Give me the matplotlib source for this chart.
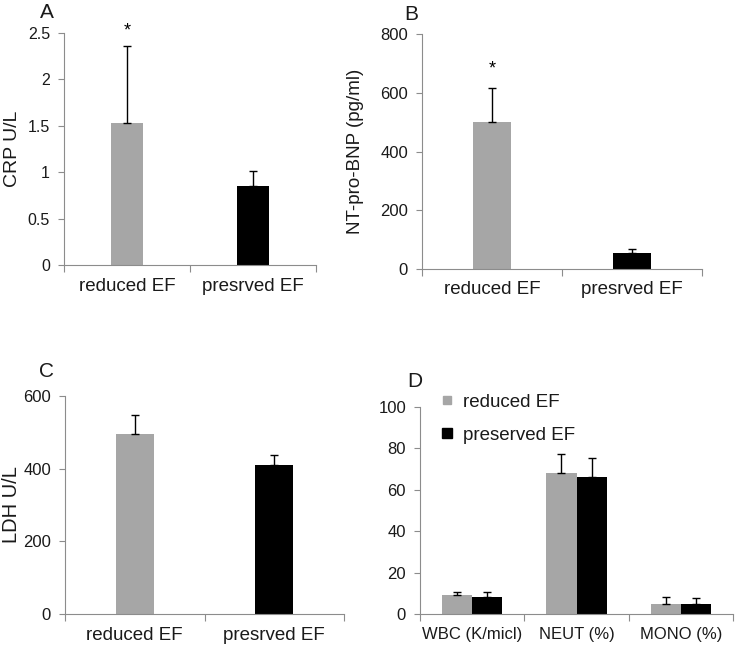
import numpy as np
import matplotlib
matplotlib.use("Agg")
import matplotlib.pyplot as plt
from matplotlib.lines import Line2D

plt.rcParams['font.family'] = ['Liberation Sans', 'DejaVu Sans']

groups = ["reduced EF", "presrved EF"]
crp = [1.53, 0.85]
crp_err = [0.83, 0.16]
bnp = [500, 55]
bnp_err = [115, 12]
ldh = [495, 410]
ldh_err = [53, 27]

cells = ["WBC (K/micl)", "NEUT (%)", "MONO (%)"]
cells_reduced = [9, 68, 5]
cells_reduced_err = [1.5, 9.5, 3]
cells_preserved = [8, 66, 5]
cells_preserved_err = [2.5, 9.5, 2.5]

GRAY = "#a6a6a6"
BLACK = "#000000"
SPINE = "#8c8c8c"
TXT = "#1a1a1a"

W, H = 737, 649
fig = plt.figure(figsize=(W / 100, H / 100), dpi=100)


def add_ax(l, r, t, b):
    # pixel box -> figure fraction
    return fig.add_axes([l / W, 1 - b / H, (r - l) / W, (b - t) / H])


def style(ax, ncat, labels, ylim, yticks, ytl, tsize=12, csize=13.5):
    for s in ["top", "right"]:
        ax.spines[s].set_visible(False)
    for s in ["left", "bottom"]:
        ax.spines[s].set_color(SPINE)
    ax.set_xlim(-0.5, ncat - 0.5)
    ax.set_ylim(*ylim)
    ax.set_yticks(yticks)
    ax.set_yticklabels(ytl, fontsize=tsize, color=TXT)
    ax.set_xticks(np.arange(ncat + 1) - 0.5)
    ax.set_xticklabels([])
    ax.set_xticks(np.arange(ncat), minor=True)
    ax.set_xticklabels(labels, minor=True, fontsize=csize, color=TXT)
    ax.tick_params(axis="x", which="minor", length=0, pad=9)
    ax.tick_params(axis="x", which="major", length=5, color=SPINE)
    ax.tick_params(axis="y", length=4, color=SPINE, pad=6)


def two_bars(ax, vals, errs, width):
    x = np.arange(2)
    ax.bar(x, vals, width=width, color=[GRAY, BLACK], zorder=2)
    ax.errorbar(x, vals, yerr=[[0, 0], errs], fmt="none", ecolor="black",
                elinewidth=1, capsize=3, capthick=1, zorder=3)


# A
axA = add_ax(64, 316, 33, 265)
two_bars(axA, crp, crp_err, 0.26)
style(axA, 2, groups, (0, 2.5), [0, 0.5, 1, 1.5, 2, 2.5],
      ["0", "0.5", "1", "1.5", "2", "2.5"], tsize=11.5)
axA.set_ylabel("CRP U/L", fontsize=14, color=TXT)
axA.yaxis.set_label_coords(-0.171, 0.5)
axA.text(0, 2.52, "*", ha="center", va="center", fontsize=13)

# B
axB = add_ax(422, 702, 34, 269)
two_bars(axB, bnp, bnp_err, 0.265)
style(axB, 2, groups, (0, 800), [0, 200, 400, 600, 800],
      ["0", "200", "400", "600", "800"])
axB.set_ylabel("NT-pro-BNP (pg/ml)", fontsize=13.5, color=TXT)
axB.yaxis.set_label_coords(-0.207, 0.5)
axB.text(0, 680, "*", ha="center", va="center", fontsize=13)

# C
axC = add_ax(65, 344, 396, 614)
two_bars(axC, ldh, ldh_err, 0.27)
style(axC, 2, groups, (0, 600), [0, 200, 400, 600],
      ["0", "200", "400", "600"])
axC.set_ylabel("LDH U/L", fontsize=14.5, color=TXT)
axC.yaxis.set_label_coords(-0.158, 0.5)

# D
axD = add_ax(420, 733, 407, 614)
x = np.arange(3)
bw = 0.29
axD.bar(x - bw / 2, cells_reduced, width=bw, color=GRAY, zorder=2)
axD.bar(x + bw / 2, cells_preserved, width=bw, color=BLACK, zorder=2)
axD.errorbar(x - bw / 2, cells_reduced,
             yerr=[[0] * 3, cells_reduced_err], fmt="none", ecolor="black",
             elinewidth=1, capsize=3, capthick=1, zorder=3)
axD.errorbar(x + bw / 2, cells_preserved,
             yerr=[[0] * 3, cells_preserved_err], fmt="none", ecolor="black",
             elinewidth=1, capsize=3, capthick=1, zorder=3)
style(axD, 3, cells, (0, 100), [0, 20, 40, 60, 80, 100],
      ["0", "20", "40", "60", "80", "100"], csize=12)
handles = [Line2D([], [], ls="none", marker="s", ms=6, color=GRAY, label="reduced EF"),
           Line2D([], [], ls="none", marker="s", ms=7, color=BLACK, label="preserved EF")]
fig.legend(handles=handles, loc="upper left", bbox_to_anchor=(430 / W, 1 - 384 / H),
           frameon=False, fontsize=13.5, handletextpad=0.45, labelspacing=0.85,
           handlelength=0.8, borderpad=0, labelcolor=TXT)

# panel letters
for lab, px, py in [("A", 47, 12), ("B", 411, 14), ("C", 46, 372), ("D", 415, 381)]:
    fig.text(px / W, 1 - py / H, lab, ha="center", va="center", fontsize=15, color=TXT)

fig.savefig("out.png", dpi=100)
